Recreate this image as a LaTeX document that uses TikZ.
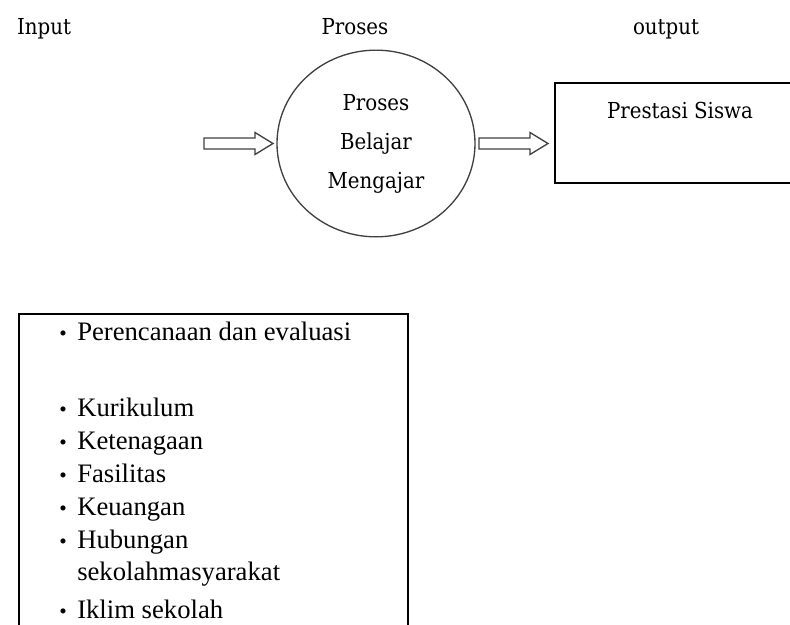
\documentclass[tikz,border=0pt]{standalone}
\usepackage{fontspec}
\setmainfont{Liberation Serif}
\newfontfamily\headfont{DejaVu Serif Condensed}
\usetikzlibrary{shapes.geometric}
\tikzset{
  head/.style={font=\headfont\fontsize{16.5}{18}\selectfont, anchor=base, inner sep=0pt},
  item/.style={font=\fontsize{20}{22}\selectfont, anchor=base west, inner sep=0pt},
  bul/.style={font=\fontsize{16}{22}\selectfont, anchor=base, inner sep=0pt},
  blockarrow/.style={draw=black!75, line width=1pt, fill=white, line join=miter},
  frame/.style={draw=black, line width=1.5pt}
}
\begin{document}
\begin{tikzpicture}[x=0.75pt, y=-0.75pt]
\useasboundingbox (0,0) rectangle (790,625);
\clip (0,0) rectangle (790,625);
% headers
\node[head] (hin) at (44,34) {Input};
\node[head] (hpro) at (355,34) {Proses};
\node[head] (hout) at (666,34) {output};
% process circle
\node[ellipse, draw=black!75, line width=1pt, inner sep=0pt,
      minimum width=148.5pt, minimum height=140pt] (proc) at (376,143.5) {};
\node[head] (p1) at (376,110) {Proses};
\node[head] (p2) at (376,149) {Belajar};
\node[head] (p3) at (376,188) {Mengajar};
% arrows
\coordinate (a1s) at (204,143.5);
\coordinate (a2s) at (479,143.5);
\draw[blockarrow] (a1s) ++(0,-5.5) -- ++(51,0) -- ++(0,-5.5) -- ++(18,11) -- ++(-18,11) -- ++(0,-5.5) -- ++(-51,0) -- cycle;
\draw[blockarrow] (a2s) ++(0,-5.5) -- ++(51,0) -- ++(0,-5.5) -- ++(18,11) -- ++(-18,11) -- ++(0,-5.5) -- ++(-51,0) -- cycle;
% output box
\draw[draw=black, line width=1.1pt] (555,83) rectangle (800,183);
\node[head] (pres) at (680,118) {Prestasi Siswa};
% input box
\draw[frame] (19,314) rectangle (408,640);
\foreach \n/\y/\t in {b1/340/Perencanaan dan evaluasi, b2/416/Kurikulum, b3/449/Ketenagaan,
                      b4/482/Fasilitas, b5/515/Keuangan, b6/548/Hubungan, b8/618/Iklim sekolah}{
  \node[bul] (d\n) at (63,\y) {•};
  \node[item] (\n) at (77,\y) {\t};
}
\node[item] (b7) at (77,580) {sekolahmasyarakat};
\end{tikzpicture}
\end{document}
